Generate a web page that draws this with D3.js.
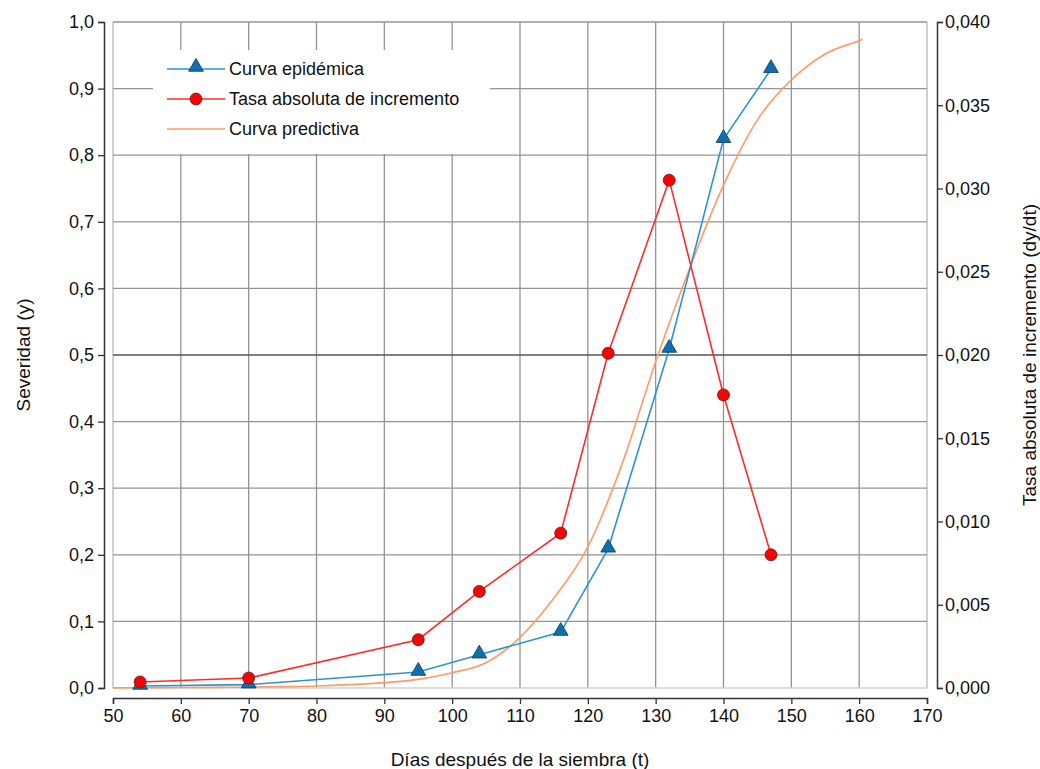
<!DOCTYPE html>
<html>
<head>
<meta charset="utf-8">
<script src="https://cdn.jsdelivr.net/npm/d3@7"></script>
<style>
  body { margin: 0; background: #fff; }
  svg { font-family: 'Liberation Sans', Arial, sans-serif; }
  .tick text { font-size: 18px; fill: #111; }
  .ax path, .ax line { stroke: #333; }
</style>
</head>
<body>
<svg width="1040" height="769"></svg>
<script>
// dias de muestreo
const dias = [54, 70, 95, 104, 116, 123, 132, 140, 147]
// severidad observada (eje izq.)
const severidad = [0.003, 0.005, 0.024, 0.050, 0.084, 0.209, 0.509, 0.824, 0.929]
// tasa absoluta de incremento (eje der.)
const tasa = [0.00036, 0.0006, 0.0029, 0.0058, 0.0093, 0.0201, 0.0305, 0.0176, 0.0080]
// curva predictiva
const diasPred = [50, 55, 60, 65, 70, 75, 80, 85, 90, 95, 100, 105, 110, 115, 120, 125, 130, 135, 140, 145, 150, 155, 160, 160.5]
const sevPred = [0.0002, 0.0004, 0.0007, 0.001, 0.0015, 0.002, 0.003, 0.005, 0.008, 0.013, 0.023, 0.038, 0.076, 0.135, 0.212, 0.335, 0.49, 0.63, 0.755, 0.853, 0.913, 0.952, 0.972, 0.974]

const xTicks = d3.range(50, 171, 10)
const yTicks = d3.range(0, 1.01, 0.1)
const y2Ticks = d3.range(0, 0.0401, 0.005)

const svg = d3.select('svg')
const m = { l: 113, r: 927, t: 22, b: 688 }

const x = d3.scaleLinear().domain([50, 170]).range([m.l, m.r])
const y = d3.scaleLinear().domain([0, 1]).range([m.b, m.t])
const y2 = d3.scaleLinear().domain([0, 0.04]).range([m.b, m.t])

const coma = f => v => d3.format(f)(v).replace('.', ',')

// rejilla
const grid = svg.append('g').attr('class', 'grid')
grid.selectAll('line.v')
  .data(xTicks)
  .enter().append('line')
  .attr('x1', d => x(d)).attr('x2', d => x(d))
  .attr('y1', m.t).attr('y2', m.b)
  .attr('stroke', (d, i) => (i === 0 || i === xTicks.length - 1) ? '#b8b8b8' : '#949494')
  .attr('stroke-width', 1.3)
grid.selectAll('line.h')
  .data(yTicks)
  .enter().append('line')
  .attr('x1', m.l).attr('x2', m.r)
  .attr('y1', d => y(d)).attr('y2', d => y(d))
  .attr('stroke', d => Math.abs(d - 0.5) < 1e-6 ? '#555' : (d < 0.01 ? '#d0d0d0' : '#949494'))
  .attr('stroke-width', 1.3)

// ejes
svg.append('g').attr('class', 'ax')
  .attr('transform', `translate(104,0)`)
  .call(d3.axisLeft(y).tickValues(yTicks).tickFormat(coma('.1f')).tickSizeOuter(0).tickSize(6).tickPadding(4))
svg.append('g').attr('class', 'ax')
  .attr('transform', `translate(937,0)`)
  .call(d3.axisRight(y2).tickValues(y2Ticks).tickFormat(coma('.3f')).tickSizeOuter(0).tickSize(6).tickPadding(2))
svg.append('g').attr('class', 'ax')
  .attr('transform', `translate(0,698)`)
  .call(d3.axisBottom(x).tickValues(xTicks).tickSizeOuter(0).tickSize(6).tickPadding(5))
svg.selectAll('.ax .domain').attr('stroke', '#555').attr('stroke-width', 1.5)
svg.selectAll('.ax .tick line').attr('stroke', '#555').attr('stroke-width', 1.3)

// titulos
svg.append('text')
  .attr('x', 520).attr('y', 766)
  .attr('text-anchor', 'middle').attr('font-size', 19).attr('fill', '#111')
  .text('Días después de la siembra (t)')
svg.append('text')
  .attr('transform', 'translate(30,355) rotate(-90)')
  .attr('text-anchor', 'middle').attr('font-size', 19).attr('fill', '#111')
  .text('Severidad (y)')
svg.append('text')
  .attr('transform', 'translate(1036,355) rotate(-90)')
  .attr('text-anchor', 'middle').attr('font-size', 19).attr('fill', '#111')
  .text('Tasa absoluta de incremento (dy/dt)')

// series
const azul = '#2c93d1', rojo = '#ff2b2b', naranja = '#ff9a66'
const triangulo = d3.symbol().type(d3.symbolTriangle).size(95)

svg.append('path')
  .datum(diasPred.map((d, i) => [d, sevPred[i]]))
  .attr('fill', 'none').attr('stroke', naranja).attr('stroke-width', 1.6)
  .attr('d', d3.line().x(d => x(d[0])).y(d => y(d[1])).curve(d3.curveMonotoneX))

svg.append('path')
  .datum(dias.map((d, i) => [d, severidad[i]]))
  .attr('fill', 'none').attr('stroke', azul).attr('stroke-width', 1.6)
  .attr('d', d3.line().x(d => x(d[0])).y(d => y(d[1])))

svg.append('path')
  .datum(dias.map((d, i) => [d, tasa[i]]))
  .attr('fill', 'none').attr('stroke', rojo).attr('stroke-width', 1.6)
  .attr('d', d3.line().x(d => x(d[0])).y(d => y2(d[1])))

svg.selectAll('path.tri')
  .data(dias.map((d, i) => [d, severidad[i]]))
  .enter().append('path')
  .attr('class', 'tri')
  .attr('transform', d => `translate(${[x(d[0]), y(d[1]) - 1]})`)
  .attr('d', triangulo)
  .attr('fill', '#0b70b0').attr('stroke', '#1b3550').attr('stroke-width', 0.8)

svg.selectAll('circle.pt')
  .data(dias.map((d, i) => [d, tasa[i]]))
  .enter().append('circle')
  .attr('class', 'pt')
  .attr('cx', d => x(d[0])).attr('cy', d => y2(d[1]))
  .attr('r', 6)
  .attr('fill', '#ff0000').attr('stroke', '#5a1a1a').attr('stroke-width', 0.8)

// leyenda
const leyenda = [
  { nombre: 'Curva epidémica', color: azul, marca: 'tri' },
  { nombre: 'Tasa absoluta de incremento', color: rojo, marca: 'circ' },
  { nombre: 'Curva predictiva', color: naranja, marca: null }
]
const lg = svg.append('g').attr('transform', 'translate(153,50)')
lg.append('rect').attr('width', 337).attr('height', 104).attr('fill', '#fff')
const item = lg.selectAll('g.item')
  .data(leyenda)
  .enter().append('g')
  .attr('class', 'item')
  .attr('transform', (d, i) => `translate(0,${19 + i * 30})`)
item.append('line')
  .attr('x1', 14).attr('x2', 72)
  .attr('stroke', d => d.color).attr('stroke-width', 1.6)
item.filter(d => d.marca === 'tri').append('path')
  .attr('transform', 'translate(43,-2)')
  .attr('d', triangulo)
  .attr('fill', '#0b70b0').attr('stroke', '#1b3550').attr('stroke-width', 0.8)
item.filter(d => d.marca === 'circ').append('circle')
  .attr('cx', 43).attr('r', 6)
  .attr('fill', '#ff0000').attr('stroke', '#5a1a1a').attr('stroke-width', 0.8)
item.append('text')
  .attr('x', 76).attr('dy', '0.35em')
  .attr('font-size', 18).attr('fill', '#111')
  .text(d => d.nombre)
</script>
</body>
</html>
